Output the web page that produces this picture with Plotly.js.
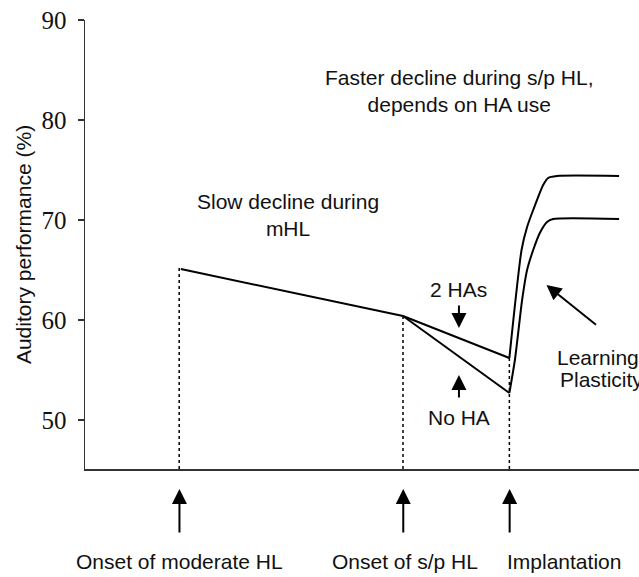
<!DOCTYPE html>
<html>
<head>
<meta charset="utf-8">
<script src="https://cdn.plot.ly/plotly-3.0.1.min.js"></script>
<style>html,body{margin:0;padding:0;background:#fff;}#chart{width:639px;height:577px;}</style>
</head>
<body>
<div id="chart"></div>
<script>
// Time axis in arbitrary units (0-100), performance in %
const eventX = [17.0, 57.4, 76.6];          // onset moderate HL, onset s/p HL, implantation
const eventTopY = [65.2, 60.4, 56.2];        // where each dotted marker line meets the curve
const eventLabels = ["Onset of moderate HL", "Onset of s/p HL", "Implantation"];

const mhlX = [17.3, 57.4];
const mhlY = [65.1, 60.4];

const twoHAX = [57.4, 76.6];
const twoHAY = [60.4, 56.2];

const noHAX = [57.4, 76.6];
const noHAY = [60.4, 52.7];

const twoHARecX = [76.6, 78.8, 79.8, 80.9, 82.7, 83.6, 85.2, 96.4];
const twoHARecY = [56.2, 67.0, 69.3, 71.0, 73.5, 74.2, 74.4, 74.4];

const noHARecX = [76.6, 77.6, 78.9, 79.8, 80.9, 82.1, 83.4, 84.5, 96.4];
const noHARecY = [52.7, 56.0, 62.0, 65.0, 67.0, 68.7, 69.8, 70.1, 70.1];

const yTicks = [50, 60, 70, 80, 90];

const SANS = "Liberation Sans, Arial, sans-serif";
const SERIF = "Liberation Serif, Times New Roman, serif";
const INK = "#111";

const solid = {color: "#000", width: 2};
const traces = [];
// dotted event markers
for (let i = 0; i < eventX.length; i++) {
  traces.push({x: [eventX[i], eventX[i]], y: [eventTopY[i], 45.1], mode: "lines",
    line: {color: "#000", width: 1.5, dash: "dot"}, hoverinfo: "skip"});
}
traces.push({x: mhlX, y: mhlY, mode: "lines", line: solid});
traces.push({x: twoHAX, y: twoHAY, mode: "lines", line: solid});
traces.push({x: noHAX, y: noHAY, mode: "lines", line: solid});
traces.push({x: twoHARecX, y: twoHARecY, mode: "lines", line: Object.assign({shape: "spline", smoothing: 0.6}, solid)});
traces.push({x: noHARecX, y: noHARecY, mode: "lines", line: Object.assign({shape: "spline", smoothing: 0.6}, solid)});

const txt = () => ({family: SANS, size: 21, color: INK});
const arrowStyle = {text: "", showarrow: true, arrowhead: 2, arrowsize: 1.5, arrowwidth: 2, arrowcolor: "#000"};
const annotations = [
  {x: 67.5, y: 82.9, xref: "x", yref: "y", text: "Faster decline during s/p HL,<br>depends on HA use", showarrow: false, font: txt()},
  {x: 36.6, y: 70.5, xref: "x", yref: "y", text: "Slow decline during<br>mHL", showarrow: false, font: txt()},
  {x: 67.5, y: 63.1, xref: "x", yref: "y", text: "2 HAs", showarrow: false, font: txt()},
  {x: 67.5, y: 50.3, xref: "x", yref: "y", text: "No HA", showarrow: false, font: txt()},
  {x: 84.8, y: 56.3, xref: "x", yref: "y", text: "Learning", xanchor: "left", showarrow: false, font: txt()},
  {x: 85.3, y: 54.1, xref: "x", yref: "y", text: "Plasticity", xanchor: "left", showarrow: false, font: txt()},
  // arrows inside plot
  Object.assign({x: 67.5, y: 59.2, xref: "x", yref: "y", ax: 0, ay: -24}, arrowStyle),
  Object.assign({x: 67.5, y: 54.5, xref: "x", yref: "y", ax: 0, ay: 24}, arrowStyle),
  Object.assign({x: 83.3, y: 63.5, xref: "x", yref: "y", ax: 51, ay: 41}, arrowStyle)
];
const labelX = [17.1, 57.7, 75.9];
const labelAnchor = ["center", "center", "left"];
for (let i = 0; i < eventX.length; i++) {
  annotations.push(Object.assign({x: eventX[i] + 0.05, y: -0.0445, xref: "x", yref: "paper", ax: 0, ay: 45}, arrowStyle));
  annotations.push({x: labelX[i], y: -0.207, xref: "x", yref: "paper", text: eventLabels[i],
    xanchor: labelAnchor[i], yanchor: "middle", showarrow: false, font: txt()});
}

const layout = {
  width: 639, height: 577,
  margin: {l: 85, r: 0, t: 20, b: 108, pad: 0},
  paper_bgcolor: "#fff", plot_bgcolor: "#fff",
  showlegend: false,
  xaxis: {range: [0, 100], showgrid: false, zeroline: false, showticklabels: false, ticks: "",
    showline: true, linecolor: "#333", linewidth: 1.5, fixedrange: true},
  yaxis: {range: [45.1, 90], tickvals: yTicks, ticktext: yTicks.map(String), ticks: "outside", ticklen: 6,
    tickwidth: 1.5, tickcolor: "#333", ticklabelstandoff: 6, showgrid: false, zeroline: false,
    showline: true, linecolor: "#333", linewidth: 1.5, automargin: true,
    tickfont: {family: SERIF, size: 25, color: INK},
    title: {text: "Auditory performance (%)", standoff: 4, font: {family: SANS, size: 21, color: INK}}},
  annotations: annotations
};

Plotly.newPlot("chart", traces, layout, {displayModeBar: false, staticPlot: true});
</script>
</body>
</html>
